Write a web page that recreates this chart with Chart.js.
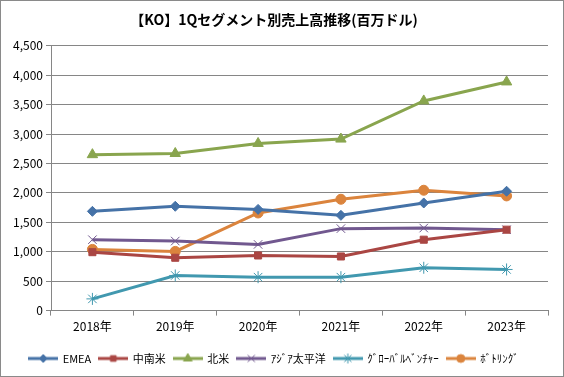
<!DOCTYPE html>
<html><head><meta charset="utf-8">
<script src="https://cdn.jsdelivr.net/npm/chart.js@4/dist/chart.umd.min.js"></script>
<style>html,body{margin:0;padding:0;background:#fff}#w{width:564px;height:377px}</style>
</head><body><div id="w"><canvas id="c" width="564" height="377"></canvas></div>
<script>
const categories = ['2018年','2019年','2020年','2021年','2022年','2023年'];
const seriesNames = ['EMEA','中南米','北米','ｱｼﾞｱ太平洋','ｸﾞﾛｰﾊﾞﾙﾍﾞﾝﾁｬｰ','ﾎﾞﾄﾘﾝｸﾞ'];
const emea = [1687, 1773, 1720, 1619, 1829, 2028];
const latam = [993, 898, 937, 920, 1205, 1375];
const northAmerica = [2650, 2670, 2841, 2915, 3563, 3886];
const asiaPacific = [1205, 1182, 1125, 1393, 1403, 1375];
const globalVentures = [199, 597, 568, 568, 728, 699];
const bottling = [1040, 1006, 1659, 1892, 2045, 1949];
const yTicks = [0, 500, 1000, 1500, 2000, 2500, 3000, 3500, 4000, 4500];
const titleText = '【KO】1Qセグメント別売上高推移(百万ドル)';

const colors = ['#4572A7','#AA4643','#89A54E','#71588F','#4198AF','#DB843D'];
const styles = ['rectRot','rect','triangle','crossRot','star','circle'];
const radii = [5,5,6,6,6,5];
const values = [emea, latam, northAmerica, asiaPacific, globalVentures, bottling];
const FONT = '"Noto Sans CJK JP", sans-serif';

const datasets = values.map((v,i)=>({
  label: seriesNames[i],
  data: v,
  borderColor: colors[i],
  backgroundColor: colors[i],
  borderWidth: 3,
  pointStyle: styles[i],
  pointRadius: radii[i],
  pointBorderWidth: 1,
  pointBackgroundColor: colors[i],
  pointBorderColor: colors[i],
  tension: 0
}));

const bgPlugin = {
  id: 'bg',
  beforeDraw(chart){
    const ctx = chart.ctx;
    ctx.save();
    ctx.fillStyle = '#fff';
    ctx.fillRect(0,0,chart.width,chart.height);
    ctx.strokeStyle = '#8a8a8a'; ctx.lineWidth = 1;
    ctx.strokeRect(0.5,0.5,chart.width-1,chart.height-1);
    ctx.restore();
  }
};

let icons;
new Chart(document.getElementById('c'), {
  type: 'line',
  data: { labels: categories, datasets },
  plugins: [bgPlugin],
  options: {
    responsive: false,
    animation: false,
    devicePixelRatio: 1,
    layout: { padding: { left: 0, right: 16, top: 0, bottom: 3 } },
    plugins: {
      title: { display: true, text: titleText, color: '#000', font: { family: FONT, size: 14, weight: 'bold' }, padding: { top: 11, bottom: 18 } },
      legend: {
        position: 'bottom',
        labels: {
          font: { family: FONT, size: 11 }, color: '#000',
          usePointStyle: true, pointStyleWidth: 28, boxHeight: 11, padding: 8,
          generateLabels(chart){
            if(!icons) icons = seriesNames.map((_,i)=>{
              const cv = document.createElement('canvas');
              cv.width = 30; cv.height = 14;
              const ctx = cv.getContext('2d');
              ctx.strokeStyle = colors[i]; ctx.lineWidth = 3;
              ctx.beginPath(); ctx.moveTo(0,7); ctx.lineTo(30,7); ctx.stroke();
              ctx.fillStyle = colors[i]; ctx.strokeStyle = colors[i]; ctx.lineWidth = 1;
              Chart.helpers.drawPoint(ctx, {pointStyle: styles[i], radius: radii[i]-1, borderWidth: 1, rotation: 0}, 15, 7);
              return cv;
            });
            return seriesNames.map((n,i)=>({ text: n, pointStyle: icons[i], fillStyle: colors[i], strokeStyle: colors[i], lineWidth: 0, hidden: false, datasetIndex: i, fontColor: '#000' }));
          }
        }
      },
      tooltip: { enabled: false }
    },
    scales: {
      x: {
        offset: true,
        afterFit(scale){ scale.height += 7; },
        grid: { display: true, offset: true, drawOnChartArea: false, drawTicks: true, tickLength: 5, color: '#868686' },
        border: { color: '#868686', width: 1 },
        ticks: { color: '#000', font: { family: FONT, size: 12 }, padding: 4, maxRotation: 0 }
      },
      y: {
        min: 0, max: 4500,
        afterBuildTicks(scale){ scale.ticks = yTicks.map(v=>({value:v})); },
        afterFit(scale){ scale.width = 51; },
        grid: { color: '#868686', tickLength: 5 },
        border: { color: '#868686', width: 1 },
        ticks: { color: '#000', font: { family: FONT, size: 12 }, padding: 3,
          callback: v => v.toLocaleString('en-US') }
      }
    }
  }
});
</script></body></html>
